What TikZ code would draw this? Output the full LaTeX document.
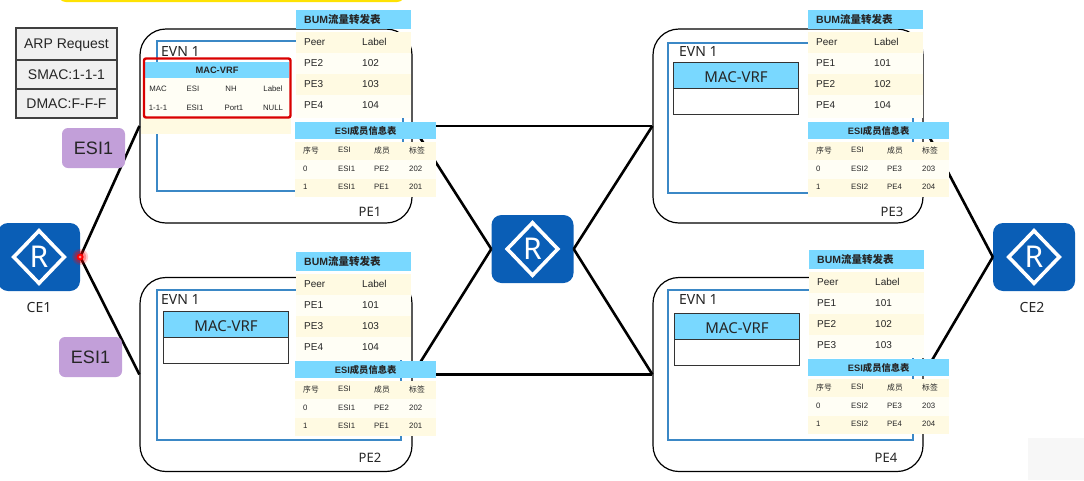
\documentclass[tikz,border=0pt]{standalone}
\usepackage{fontspec}
\setmainfont{Liberation Sans}
\newfontfamily\cjk{Noto Sans CJK SC}
\newfontfamily\yah{Noto Sans}
\usetikzlibrary{shapes.geometric}
\definecolor{headblue}{HTML}{79D8FF}
\definecolor{rowa}{HTML}{FFFAE2}
\definecolor{rowb}{HTML}{FFFEF5}
\definecolor{esipurple}{HTML}{C29FD9}
\definecolor{routerblue}{HTML}{0A5EB6}
\definecolor{evnblue}{HTML}{3B88C6}
\definecolor{inkgrey}{HTML}{262626}
\newcommand{\fsz}[1]{\fontsize{#1}{#1}\selectfont}
% name, x, y of the header, rows as a/b
\newcommand{\bumtable}[4]{
	\node[bumhead] (#1h) at (#2,#3) {BUM{\cjk 流量转发表}};
	\foreach \a/\b [count=\i] in {#4} {
		\ifodd\i\def\rowc{rowa}\else\def\rowc{rowb}\fi
		\fill[\rowc] (#2,#3+1+21*\i) rectangle (#2+115,#3+22+21*\i);
		\node[bumtext] (#1a\i) at (#2+8,#3+11+21*\i) {\a};
		\node[bumtext] (#1b\i) at (#2+66,#3+11+21*\i) {\b};
	}
	\fill[rowb] (#2,#3+106) rectangle (#2+115,#3+108);
}
% name, x, y of the header, rows as a/b/c/d
\newcommand{\esitable}[4]{
	\node[esihead] (#1h) at (#2,#3) {ESI{\cjk 成员信息表}};
	\foreach \a/\b/\c/\d [count=\i] in {#4} {
		\ifodd\i\def\rowc{rowa}\else\def\rowc{rowb}\fi
		\fill[\rowc] (#2,#3+1.7+18.3*\i) rectangle (#2+141,#3+20+18.3*\i);
		\node[esitext] (#1a\i) at (#2+8,#3+10+18.3*\i) {\a};
		\node[esitext] (#1b\i) at (#2+43,#3+10+18.3*\i) {\b};
		\node[esitext] (#1c\i) at (#2+79,#3+10+18.3*\i) {\c};
		\node[esitext] (#1d\i) at (#2+114,#3+10+18.3*\i) {\d};
	}
}
% name, left x, top y
\newcommand{\macvrf}[3]{
	\node[vrfhead] (#1h) at (#2,#3) {MAC-VRF};
	\node[vrfbody] (#1b) at (#2,#3+26) {};
}
\begin{document}
\begin{tikzpicture}[x=1pt,y=-1pt]
	\tikzstyle{every node}=[inner sep=0pt, align=center, text=inkgrey]
	\tikzstyle{router}=[fill=routerblue, rounded corners=10pt, minimum width=82pt, minimum height=68pt]
	\tikzstyle{routermark}=[diamond, draw=white, line width=3.6pt, minimum width=52pt, minimum height=54pt, text=white, font=\yah\fsz{30}]
	\tikzstyle{pebox}=[draw=black, fill=white, line width=1.2pt, rounded corners=26pt, minimum height=194pt]
	\tikzstyle{evnbox}=[draw=evnblue, fill=white, line width=1.5pt, anchor=north west, minimum height=150pt]
	\tikzstyle{biglabel}=[font=\yah\fsz{14}, anchor=west]
	\tikzstyle{link}=[draw=black, line width=2.6pt]
	\tikzstyle{arpcell}=[draw=black!75, fill=black!6, line width=1.2pt, minimum width=101pt, text depth=0pt, font=\fsz{14}]
	\tikzstyle{esibadge}=[fill=esipurple, rounded corners=6pt, minimum width=63pt, minimum height=40pt, font=\fsz{18}]
	\tikzstyle{vrfhead}=[draw=black!80, fill=headblue, line width=1.2pt, anchor=north west, minimum width=125pt, minimum height=26pt, text height=13pt, text depth=0pt, font=\yah\fsz{15}]
	\tikzstyle{vrfbody}=[draw=black!80, fill=white, line width=1.2pt, anchor=north west, minimum width=125pt, minimum height=26pt]
	\tikzstyle{bumhead}=[fill=headblue, anchor=north west, text width=99pt, inner xsep=8pt, minimum height=19pt, align=left, font=\bfseries\fsz{10.5}]
	\tikzstyle{bumtext}=[anchor=west, font=\fsz{10}]
	\tikzstyle{esihead}=[fill=headblue, anchor=north west, minimum width=141pt, minimum height=17pt, font=\bfseries\fsz{9.3}]
	\tikzstyle{esitext}=[anchor=west, font=\fsz{7.8}]
	\tikzstyle{vrftext}=[font=\fsz{7.8}]

	\clip (0,0) rectangle (1084,480);

	% strip along the top and the corner patch
	\fill[yellow!85!orange, rounded corners=8pt] (58,-20) rectangle (405,2);
	\fill[black!3] (1028,438) rectangle (1084,480);

	% routers
	\node[router] (CE1) at (39,257) {};
	\node[routermark] (CE1m) at (CE1) {R};
	\node[router] (P) at (532.5,249) {};
	\node[routermark] (Pm) at (P) {R};
	\node[router] (CE2) at (1034,257) {};
	\node[routermark] (CE2m) at (CE2) {R};
	\node[font=\yah\fsz{14}] (CE1n) at (39,307) {CE1};
	\node[font=\yah\fsz{14}] (CE2n) at (1032,307) {CE2};

	% provider edge boxes
	\node[pebox, minimum width=272pt] (PE1) at (276,126) {};
	\node[pebox, minimum width=272pt] (PE2) at (276,374.5) {};
	\node[pebox, minimum width=270pt] (PE3) at (788,126) {};
	\node[pebox, minimum width=270pt] (PE4) at (788,374.5) {};

	% links
	\draw[link] (CE1.east) -- (PE1.west);
	\draw[link] (CE1.east) -- (PE2.west);
	\draw[link] (PE1.east) -- (P.west);
	\draw[link] (PE2.east) -- (P.west);
	\draw[link] (P.east) -- (PE3.west);
	\draw[link] (P.east) -- (PE4.west);
	\draw[link] (PE1.east) -- (PE3.west);
	\draw[link] (PE2.east) -- (PE4.west);
	\draw[link] (PE3.east) -- (CE2.west);
	\draw[link] (PE4.east) -- (CE2.west);

	% pointer dot on CE1
	\fill[red, opacity=0.2] (CE1.east) circle (8pt);
	\fill[red, opacity=0.3] (CE1.east) circle (6pt);
	\fill[red] (CE1.east) circle (3.5pt);
	\fill[red!45] (CE1.east) circle (1.5pt);

	% EVN boxes
	\node[evnbox, minimum width=246pt] (PE1e) at (156,40) {};
	\node[evnbox, minimum width=244pt] (PE2e) at (156,289) {};
	\node[evnbox, minimum width=245pt] (PE3e) at (667,42) {};
	\node[evnbox, minimum width=245pt] (PE4e) at (667,289) {};
	\node[biglabel] (PE1l) at (161,51) {EVN 1};
	\node[biglabel] (PE2l) at (161,299) {EVN 1};
	\node[biglabel] (PE3l) at (679,51) {EVN 1};
	\node[biglabel] (PE4l) at (679,299) {EVN 1};
	\node[font=\yah\fsz{13}] (PE1n) at (370,212) {PE1};
	\node[font=\yah\fsz{13}] (PE2n) at (370,458) {PE2};
	\node[font=\yah\fsz{13}] (PE3n) at (892,212) {PE3};
	\node[font=\yah\fsz{13}] (PE4n) at (886,458) {PE4};

	% MAC-VRF blocks
	\macvrf{PE2v}{163}{311}
	\macvrf{PE3v}{673}{62}
	\macvrf{PE4v}{674}{313}

	% MAC-VRF table of PE1
	\fill[rowb] (141,78) rectangle (291,118);
	\fill[rowa] (141,118) rectangle (291,134);
	\fill[headblue] (145,62) rectangle (289,78);
	\node[font=\bfseries\fsz{9.3}] (PE1vh) at (217,70.5) {MAC-VRF};
	\node[vrftext] (PE1va) at (158,89) {MAC};
	\node[vrftext] (PE1vb) at (193,89) {ESI};
	\node[vrftext] (PE1vc) at (231,89) {NH};
	\node[vrftext] (PE1vd) at (273,89) {Label};
	\node[vrftext] (PE1ve) at (158,108) {1-1-1};
	\node[vrftext] (PE1vf) at (195,108) {ESI1};
	\node[vrftext] (PE1vg) at (234,108) {Port1};
	\node[vrftext] (PE1vi) at (273,108) {NULL};
	\draw[red!85!black, line width=2.4pt, rounded corners=2pt] (144,58.5) rectangle (290.5,117.5);

	% forwarding tables
	\bumtable{PE1t}{296}{10}{Peer/Label,PE2/102,PE3/103,PE4/104}
	\bumtable{PE2t}{296}{252}{Peer/Label,PE1/101,PE3/103,PE4/104}
	\bumtable{PE3t}{808}{10}{Peer/Label,PE1/101,PE2/102,PE4/104}
	\bumtable{PE4t}{809}{250}{Peer/Label,PE1/101,PE2/102,PE3/103}

	% member tables
	\esitable{PE1s}{295}{122}{\cjk 序号/ESI/\cjk 成员/\cjk 标签,0/ESI1/PE2/202,1/ESI1/PE1/201}
	\esitable{PE2s}{295}{361}{\cjk 序号/ESI/\cjk 成员/\cjk 标签,0/ESI1/PE2/202,1/ESI1/PE1/201}
	\esitable{PE3s}{808}{122}{\cjk 序号/ESI/\cjk 成员/\cjk 标签,0/ESI2/PE3/203,1/ESI2/PE4/204}
	\esitable{PE4s}{808}{359}{\cjk 序号/ESI/\cjk 成员/\cjk 标签,0/ESI2/PE3/203,1/ESI2/PE4/204}

	% frame fields and ESI badges
	\node[arpcell, minimum height=32pt] (arp1) at (66.5,44) {ARP Request};
	\node[arpcell, minimum height=29pt] (arp2) at (66.5,74.5) {SMAC:1-1-1};
	\node[arpcell, minimum height=29pt] (arp3) at (66.5,103.5) {DMAC:F-F-F};
	\node[esibadge] (ESI1a) at (93.5,148) {ESI1};
	\node[esibadge] (ESI1b) at (90.5,357) {ESI1};
\end{tikzpicture}
\end{document}
